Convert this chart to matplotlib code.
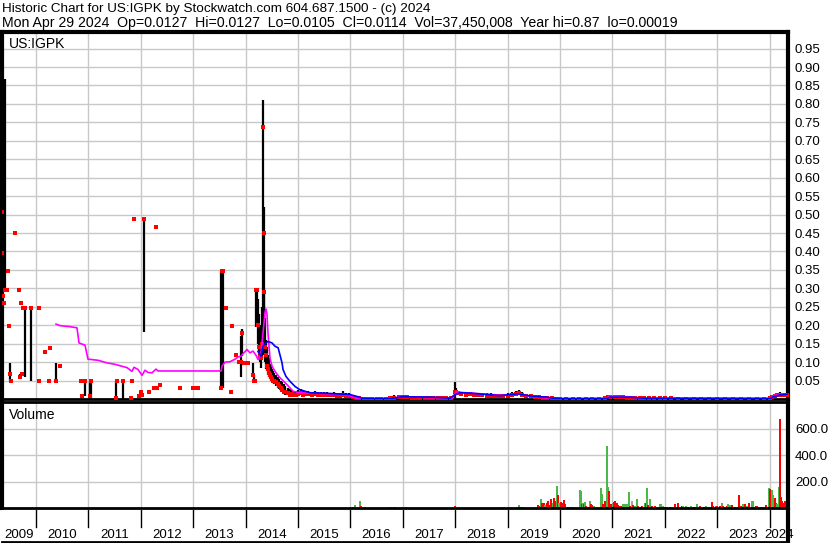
import matplotlib
matplotlib.use("Agg")
import matplotlib.pyplot as plt

plt.rcParams['font.family'] = ['Liberation Sans', 'DejaVu Sans']

# ---- header text ----
title_line = "Historic Chart for US:IGPK by Stockwatch.com 604.687.1500 - (c) 2024"
quote_fields = ["Mon Apr 29 2024", "Op=0.0127", "Hi=0.0127", "Lo=0.0105", "Cl=0.0114",
                "Vol=37,450,008", "Year hi=0.87", "lo=0.00019"]

# ---- price bars (fractional year, high, low, close) ----
bar_t = [2009.36, 2009.41, 2009.504, 2009.695, 2009.79, 2009.905, 2010.382, 2010.935,
         2011.035, 2011.05, 2011.527, 2011.66, 2012.061, 2013.531, 2013.569, 2013.912,
         2013.931, 2014.141, 2014.16,
         # 2014 spike
         2014.20, 2014.215, 2014.23, 2014.25, 2014.27, 2014.29, 2014.31, 2014.33,
         2014.345, 2014.36, 2014.375, 2014.39, 2014.41, 2014.43, 2014.45, 2014.47,
         2014.49, 2014.51, 2014.53, 2014.55, 2014.58, 2014.61, 2014.64, 2014.67,
         2014.70, 2014.73, 2014.76, 2014.80, 2014.84, 2014.88, 2014.92, 2014.96,
         # 2015
         2015.00, 2015.05, 2015.10, 2015.15, 2015.20, 2015.26, 2015.32, 2015.38,
         2015.44, 2015.50, 2015.56, 2015.62, 2015.68, 2015.74, 2015.80, 2015.86,
         2015.92, 2015.98,
         # 2016
         2016.04, 2016.10, 2016.17, 2016.25, 2016.33, 2016.42, 2016.50, 2016.58,
         2016.67, 2016.75, 2016.83, 2016.92,
         # 2017
         2017.00, 2017.08, 2017.17, 2017.25, 2017.33, 2017.42, 2017.50, 2017.58,
         2017.67, 2017.75, 2017.83, 2017.92, 2017.99,
         # 2018
         2018.02, 2018.06, 2018.12, 2018.20, 2018.28, 2018.36, 2018.44, 2018.52,
         2018.60, 2018.68, 2018.76, 2018.84, 2018.92,
         # 2019
         2019.00, 2019.08, 2019.16, 2019.22, 2019.28, 2019.36, 2019.44, 2019.52,
         2019.60, 2019.68, 2019.76, 2019.84, 2019.92,
         # 2020
         2020.00, 2020.12, 2020.25, 2020.37, 2020.50, 2020.62, 2020.75, 2020.86,
         2020.92, 2020.96,
         # 2021
         2021.04, 2021.12, 2021.20, 2021.28, 2021.36, 2021.44, 2021.52, 2021.60,
         2021.70, 2021.80, 2021.90,
         # 2022-2023
         2022.00, 2022.12, 2022.25, 2022.40, 2022.55, 2022.70, 2022.85,
         2023.00, 2023.15, 2023.30, 2023.45, 2023.60, 2023.75, 2023.90,
         # 2024
         2024.00, 2024.05, 2024.10, 2024.15, 2024.20, 2024.25, 2024.30, 2024.33]

bar_hi = [0.469, 0.868, 0.098, 0.067, 0.248, 0.248, 0.098, 0.048,
          0.048, 0.048, 0.048, 0.048, 0.489, 0.348, 0.348, 0.170,
          0.190, 0.097, 0.066,
          0.300, 0.300, 0.270, 0.230, 0.200, 0.170, 0.250, 0.810,
          0.520, 0.300, 0.220, 0.160, 0.140, 0.120, 0.110, 0.095,
          0.090, 0.080, 0.075, 0.070, 0.065, 0.060, 0.055, 0.050,
          0.045, 0.040, 0.035, 0.030, 0.027, 0.024, 0.022, 0.021,
          0.025, 0.027, 0.024, 0.022, 0.023, 0.020, 0.021, 0.019,
          0.020, 0.018, 0.019, 0.017, 0.018, 0.016, 0.015, 0.022,
          0.016, 0.015,
          0.012, 0.008, 0.004, 0.002, 0.002, 0.002, 0.002, 0.002,
          0.002, 0.003, 0.010, 0.007,
          0.008, 0.012, 0.008, 0.007, 0.006, 0.007, 0.006, 0.005,
          0.006, 0.005, 0.004, 0.004, 0.045,
          0.030, 0.022, 0.020, 0.018, 0.019, 0.017, 0.016, 0.017,
          0.016, 0.015, 0.014, 0.014, 0.013,
          0.015, 0.018, 0.022, 0.025, 0.018, 0.014, 0.012, 0.010,
          0.009, 0.008, 0.007, 0.005, 0.003,
          0.002, 0.002, 0.003, 0.002, 0.002, 0.003, 0.002, 0.004,
          0.012, 0.010,
          0.009, 0.008, 0.008, 0.007, 0.007, 0.006, 0.005, 0.004,
          0.004, 0.005, 0.004,
          0.003, 0.004, 0.003, 0.002, 0.002, 0.003, 0.002,
          0.002, 0.002, 0.003, 0.002, 0.002, 0.003, 0.002,
          0.004, 0.010, 0.014, 0.016, 0.018, 0.016, 0.015, 0.0127]

bar_lo = [0.396, 0.296, 0.048, 0.059, 0.059, 0.048, 0.048, 0.007,
          0.000, 0.000, 0.002, 0.000, 0.183, 0.029, 0.029, 0.059,
          0.116, 0.066, 0.048,
          0.195, 0.210, 0.150, 0.110, 0.100, 0.085, 0.110, 0.120,
          0.150, 0.130, 0.100, 0.080, 0.075, 0.065, 0.060, 0.055,
          0.050, 0.045, 0.045, 0.040, 0.035, 0.030, 0.028, 0.022,
          0.020, 0.015, 0.012, 0.010, 0.010, 0.010, 0.009, 0.009,
          0.010, 0.012, 0.010, 0.012, 0.010, 0.011, 0.010, 0.010,
          0.009, 0.010, 0.009, 0.008, 0.009, 0.008, 0.007, 0.008,
          0.006, 0.006,
          0.004, 0.002, 0.001, 0.001, 0.001, 0.0005, 0.001, 0.001,
          0.001, 0.001, 0.003, 0.003,
          0.004, 0.004, 0.003, 0.003, 0.002, 0.002, 0.002, 0.002,
          0.002, 0.001, 0.001, 0.001, 0.004,
          0.010, 0.010, 0.010, 0.009, 0.010, 0.008, 0.008, 0.007,
          0.007, 0.006, 0.006, 0.006, 0.006,
          0.007, 0.008, 0.010, 0.010, 0.008, 0.006, 0.005, 0.004,
          0.003, 0.003, 0.002, 0.001, 0.001,
          0.0005, 0.0005, 0.001, 0.0005, 0.0005, 0.001, 0.0005, 0.001,
          0.003, 0.004,
          0.004, 0.004, 0.003, 0.003, 0.003, 0.002, 0.002, 0.001,
          0.001, 0.001, 0.001,
          0.001, 0.001, 0.001, 0.0005, 0.0005, 0.0005, 0.0005,
          0.0005, 0.0005, 0.0005, 0.0005, 0.0005, 0.0005, 0.0005,
          0.001, 0.003, 0.006, 0.008, 0.009, 0.009, 0.010, 0.0105]

bar_cl = [0.397, 0.296, 0.067, 0.059, 0.248, 0.248, 0.048, 0.048,
          0.007, 0.048, 0.002, 0.048, 0.489, 0.029, 0.348, 0.100,
          0.179, 0.066, 0.048,
          0.296, 0.296, 0.200, 0.140, 0.120, 0.110, 0.150, 0.738,
          0.450, 0.290, 0.140, 0.120, 0.090, 0.080, 0.070, 0.065,
          0.060, 0.055, 0.050, 0.048, 0.045, 0.040, 0.035, 0.030,
          0.025, 0.020, 0.018, 0.015, 0.012, 0.013, 0.012, 0.011,
          0.014, 0.015, 0.012, 0.014, 0.013, 0.012, 0.013, 0.011,
          0.012, 0.011, 0.010, 0.010, 0.011, 0.009, 0.009, 0.010,
          0.008, 0.007,
          0.005, 0.003, 0.002, 0.001, 0.001, 0.001, 0.001, 0.001,
          0.001, 0.002, 0.004, 0.005,
          0.005, 0.006, 0.004, 0.004, 0.003, 0.003, 0.003, 0.003,
          0.003, 0.002, 0.002, 0.002, 0.020,
          0.018, 0.015, 0.014, 0.012, 0.013, 0.012, 0.010, 0.010,
          0.009, 0.009, 0.008, 0.008, 0.008,
          0.009, 0.011, 0.014, 0.015, 0.012, 0.009, 0.007, 0.006,
          0.005, 0.004, 0.003, 0.002, 0.001,
          0.001, 0.001, 0.001, 0.001, 0.001, 0.001, 0.001, 0.002,
          0.006, 0.006,
          0.006, 0.005, 0.005, 0.004, 0.004, 0.003, 0.003, 0.002,
          0.002, 0.002, 0.002,
          0.002, 0.002, 0.001, 0.001, 0.001, 0.001, 0.001,
          0.001, 0.001, 0.001, 0.001, 0.001, 0.001, 0.001,
          0.002, 0.006, 0.009, 0.011, 0.012, 0.011, 0.012, 0.0114]

# single-price days (high = low = close)
dot_t = [2009.35, 2009.37, 2009.38, 2009.45, 2009.47, 2009.485, 2009.523, 2009.60,
         2009.676, 2009.72, 2009.73, 2009.752, 2010.057, 2010.06, 2010.172, 2010.248,
         2010.267, 2010.458, 2010.85, 2010.88, 2011.54, 2011.82, 2011.832, 2011.87,
         2011.966, 2012.004, 2012.023, 2012.156, 2012.252, 2012.29, 2012.309, 2012.366,
         2012.748, 2012.996, 2013.015, 2013.092, 2013.55, 2013.626, 2013.721, 2013.74,
         2013.817, 2013.874, 2013.97, 2014.00, 2014.05, 2014.18]
dot_v = [0.508, 0.278, 0.259, 0.296, 0.348, 0.197, 0.048, 0.449,
         0.296, 0.259, 0.067, 0.248, 0.248, 0.048, 0.128, 0.048,
         0.137, 0.089, 0.048, 0.007, 0.048, 0.004, 0.048, 0.489,
         0.007, 0.018, 0.010, 0.018, 0.029, 0.467, 0.029, 0.037,
         0.029, 0.029, 0.029, 0.029, 0.348, 0.248, 0.018, 0.197,
         0.119, 0.100, 0.097, 0.097, 0.097, 0.048]

# ---- moving averages ----
ma_fast_t = [2010.382, 2010.458, 2010.649, 2010.782, 2010.821, 2010.935, 2010.992, 2011.183,
             2011.355, 2011.508, 2011.660, 2011.737, 2011.832, 2011.870, 2011.947, 2012.023,
             2012.080, 2012.137, 2012.214, 2012.290, 2012.328, 2013.531, 2013.550, 2013.607,
             2013.702, 2013.798, 2013.855, 2013.912, 2013.950, 2014.027, 2014.084, 2014.141,
             2014.200, 2014.237, 2014.294, 2014.332, 2014.370, 2014.389, 2014.408, 2014.427,
             2014.466, 2014.504, 2014.560, 2014.640, 2014.790, 2014.905, 2015.038, 2015.420,
             2015.860, 2016.000, 2016.150, 2016.800, 2016.950, 2017.500, 2017.950, 2018.020,
             2018.100, 2018.500, 2018.900, 2019.200, 2019.450, 2019.750, 2019.900, 2020.900,
             2020.950, 2021.300, 2021.600, 2024.000, 2024.100, 2024.250, 2024.340]
ma_fast_v = [0.203, 0.199, 0.196, 0.193, 0.152, 0.146, 0.108, 0.105,
             0.098, 0.094, 0.088, 0.085, 0.075, 0.086, 0.080, 0.064,
             0.078, 0.072, 0.071, 0.081, 0.076, 0.076, 0.089, 0.100,
             0.101, 0.108, 0.114, 0.116, 0.123, 0.134, 0.125, 0.130,
             0.118, 0.107, 0.125, 0.179, 0.235, 0.244, 0.230, 0.179,
             0.110, 0.089, 0.075, 0.060, 0.039, 0.021, 0.017, 0.015,
             0.012, 0.008, 0.001, 0.002, 0.006, 0.004, 0.003, 0.020,
             0.018, 0.014, 0.010, 0.015, 0.006, 0.003, 0.001, 0.002,
             0.008, 0.006, 0.002, 0.002, 0.010, 0.014, 0.012]

ma_slow_t = [2014.237, 2014.294, 2014.332, 2014.389, 2014.427, 2014.504, 2014.561, 2014.620,
             2014.695, 2014.714, 2014.771, 2014.847, 2014.943, 2015.038, 2015.229, 2015.420,
             2015.611, 2015.860, 2015.992, 2016.150, 2016.240, 2016.760, 2016.950, 2017.004,
             2017.580, 2017.900, 2018.000, 2018.092, 2018.282, 2018.855, 2019.179, 2019.485,
             2019.752, 2019.866, 2020.000, 2020.897, 2020.954, 2021.336, 2021.584, 2022.156,
             2024.010, 2024.070, 2024.200, 2024.340]
ma_slow_v = [0.129, 0.116, 0.143, 0.152, 0.156, 0.152, 0.143, 0.139,
             0.098, 0.080, 0.061, 0.048, 0.034, 0.025, 0.017, 0.016,
             0.015, 0.013, 0.012, 0.006, 0.001, 0.001, 0.005, 0.006,
             0.005, 0.002, 0.012, 0.017, 0.016, 0.009, 0.014, 0.007,
             0.005, 0.002, 0.001, 0.001, 0.005, 0.005, 0.002, 0.002,
             0.001, 0.006, 0.011, 0.013]

# ---- volume (fractional year, volume, colour code g/r/k) ----
vol_t = [2016.044, 2016.082, 2016.183, 2016.202, 2016.273, 2016.737, 2016.765, 2016.794,
         2016.851, 2017.055, 2017.990, 2018.887, 2019.174, 2019.218, 2019.237, 2019.294,
         2019.575, 2019.605, 2019.637, 2019.662, 2019.695, 2019.720, 2019.746, 2019.771,
         2019.796, 2019.828, 2019.861, 2019.885, 2019.918, 2019.937, 2019.962, 2019.987,
         2020.013, 2020.038, 2020.071, 2020.095, 2020.134, 2020.170, 2020.210, 2020.248,
         2020.376, 2020.406, 2020.420, 2020.440, 2020.458, 2020.483, 2020.497, 2020.520,
         2020.545, 2020.573, 2020.598, 2020.617, 2020.650, 2020.777, 2020.802, 2020.821,
         2020.853, 2020.872, 2020.903, 2020.922, 2020.941, 2020.968, 2021.006, 2021.031,
         2021.056, 2021.082, 2021.113, 2021.145, 2021.178, 2021.202, 2021.230, 2021.255,
         2021.279, 2021.311, 2021.336, 2021.368, 2021.399, 2021.431, 2021.464, 2021.494,
         2021.527, 2021.559, 2021.622, 2021.641, 2021.660, 2021.685, 2021.718, 2021.750,
         2021.780, 2021.813, 2021.908, 2021.937, 2021.966, 2022.004, 2022.050, 2022.100,
         2022.195, 2022.246, 2022.323, 2022.353, 2022.400, 2022.450, 2022.500, 2022.550,
         2022.609, 2022.672, 2022.750, 2022.781, 2022.850, 2022.895, 2022.926, 2022.971,
         2023.002, 2023.050, 2023.086, 2023.116, 2023.181, 2023.212, 2023.244, 2023.277,
         2023.330, 2023.422, 2023.454, 2023.498, 2023.531, 2023.574, 2023.607, 2023.658,
         2023.689, 2023.735, 2023.765, 2023.830, 2023.880, 2023.926, 2023.989, 2024.008,
         2024.027, 2024.052, 2024.071, 2024.097, 2024.122, 2024.147, 2024.174, 2024.193,
         2024.212, 2024.237, 2024.262, 2024.294, 2024.313]
vol_v = [7.5, 22.6, 53, 15, 7.5, 7.5, 7.5, 7.5,
         7.5, 7.5, 12.6, 7.5, 7.5, 22.6, 7.5, 7.5,
         22.6, 12.6, 68, 37.7, 37.7, 22.6, 37.7, 55,
         22.6, 68, 37.7, 78, 50, 166, 100, 37.7,
         48, 37.7, 63, 32.7, 7.5, 7.5, 7.5, 7.5,
         136, 128, 32.7, 37.7, 32.7, 45, 17.6, 7.5,
         7.5, 53, 32.7, 22.6, 12.6, 151, 106, 32.7,
         53, 40, 468, 156, 128, 32.7, 37.7, 48,
         53, 37.7, 22.6, 17.6, 17.6, 30, 30, 30,
         30, 121, 17.6, 53, 22.6, 17.6, 68, 17.6,
         7.5, 12.6, 37.7, 37.7, 151, 22.6, 68, 12.6,
         7.5, 12.6, 30, 30, 17.6, 7.5, 7.5, 7.5,
         30, 37.7, 12.6, 12.6, 12.6, 7.5, 12.6, 7.5,
         30, 12.6, 7.5, 12.6, 7.5, 45, 17.6, 17.6,
         17.6, 12.6, 37.7, 17.6, 12.6, 30, 22.6, 22.6,
         7.5, 100, 12.6, 30, 30, 12.6, 37.7, 53,
         53, 17.6, 12.6, 7.5, 7.5, 22.6, 151, 146,
         136, 136, 98, 75, 37.7, 30, 161, 675,
         80, 53, 37.7, 53, 30]
vol_c = ['r', 'g', 'g', 'r', 'r', 'g', 'g', 'g',
         'r', 'g', 'r', 'g', 'g', 'g', 'r', 'r',
         'r', 'r', 'g', 'r', 'r', 'g', 'r', 'r',
         'r', 'r', 'g', 'r', 'r', 'g', 'r', 'g',
         'r', 'r', 'r', 'r', 'g', 'g', 'g', 'g',
         'g', 'g', 'r', 'g', 'r', 'g', 'r', 'g',
         'r', 'g', 'r', 'r', 'g', 'g', 'g', 'r',
         'r', 'r', 'g', 'g', 'r', 'r', 'g', 'r',
         'r', 'r', 'r', 'r', 'r', 'g', 'g', 'g',
         'g', 'g', 'r', 'k', 'r', 'g', 'g', 'r',
         'g', 'r', 'g', 'r', 'g', 'r', 'g', 'r',
         'g', 'r', 'g', 'g', 'g', 'r', 'g', 'r',
         'r', 'r', 'r', 'g', 'g', 'r', 'g', 'r',
         'g', 'r', 'r', 'g', 'r', 'r', 'r', 'g',
         'r', 'r', 'g', 'r', 'r', 'g', 'g', 'r',
         'g', 'r', 'r', 'g', 'r', 'g', 'r', 'g',
         'g', 'r', 'r', 'g', 'g', 'r', 'g', 'r',
         'r', 'g', 'g', 'r', 'r', 'g', 'g', 'r',
         'r', 'r', 'r', 'r', 'r']
vol_colors = {'g': '#4cb84c', 'r': '#ff0000', 'k': '#a6a6a6'}

years = list(range(2009, 2025))
price_ticks = [0.05, 0.10, 0.15, 0.20, 0.25, 0.30, 0.35, 0.40, 0.45, 0.50,
               0.55, 0.60, 0.65, 0.70, 0.75, 0.80, 0.85, 0.90, 0.95]
vol_ticks = [200, 400, 600]

x_start, x_end = 2009.351, 2024.351

# ---- figure & layout (pixel boxes) ----
W, H = 830, 543
fig = plt.figure(figsize=(W / 100, H / 100), dpi=100)


def box(left, top, right, bottom):
    return [left / W, 1 - bottom / H, (right - left) / W, (bottom - top) / H]


ax = fig.add_axes(box(2, 32, 788, 399))
axv = fig.add_axes(box(2, 402, 788, 508))
axb = fig.add_axes(box(2, 510, 788, 542))

grid_kw = dict(color='#c8c8c8', lw=1.0)

for a in (ax, axv):
    a.set_xlim(x_start, x_end)
    a.set_xticks(years[1:])
    a.set_xticklabels([])
    a.tick_params(axis='x', length=0)
    a.yaxis.tick_right()
    a.tick_params(axis='y', length=0, pad=5, labelsize=9.5)
    a.grid(True, **grid_kw)
    a.set_axisbelow(True)
    for s in a.spines.values():
        s.set_color('black')
    a.spines['left'].set_linewidth(3)
    a.spines['right'].set_linewidth(3)
    a.spines['top'].set_linewidth(2)
    a.spines['bottom'].set_linewidth(2)
ax.spines['top'].set_linewidth(3)

# price panel
ax.set_ylim(0, 0.995)
ax.set_yticks(price_ticks)
ax.set_yticklabels([f"{v:.2f}" for v in price_ticks])
ax.vlines(bar_t, bar_lo, bar_hi, color='black', lw=1.6, zorder=2)
ax.plot(bar_t, bar_cl, 's', color='#ff0000', ms=2.2, mew=0, zorder=3)
ax.plot(dot_t, dot_v, 's', color='#ff0000', ms=2.2, mew=0, zorder=3)
ax.plot(ma_fast_t, ma_fast_v, color='#ff00ff', lw=1.2, zorder=4)
ax.plot(ma_slow_t, ma_slow_v, color='#0000ff', lw=1.2, zorder=5)
ax.text(7 / 786, 0.987, "US:IGPK", transform=ax.transAxes, ha='left', va='top',
        fontsize=10)

# volume panel
axv.set_ylim(0, 800)
axv.set_yticks(vol_ticks)
axv.set_yticklabels([f"{v:.1f}" for v in vol_ticks])
axv.bar(vol_t, vol_v, width=0.036, color=[vol_colors[c] for c in vol_c],
        linewidth=0, zorder=2)
axv.text(7 / 786, 0.94, "Volume", transform=axv.transAxes, ha='left', va='top',
         fontsize=10)

# year band
axb.set_xlim(x_start, x_end)
axb.set_ylim(0, 1)
axb.set_xticks([])
axb.set_yticks([])
axb.spines['top'].set_visible(False)
axb.spines['left'].set_visible(False)
axb.spines['right'].set_linewidth(3)
axb.spines['bottom'].set_linewidth(2)
for y in years[1:]:
    axb.axvline(y, ymin=0.47, ymax=1, color='black', lw=1)
for y in years:
    lo = max(y, x_start)
    hi = min(y + 1, x_end)
    axb.text((lo + hi) / 2, 0.22, str(y), ha='center', va='center', fontsize=9.5)

# header
fig.text(2 / W, 1 - 9 / H, title_line, ha='left', va='center', fontsize=9.7)
fig.text(2 / W, 1 - 23 / H, "  ".join(quote_fields), ha='left', va='center',
         fontsize=10.2)

fig.savefig("out.png", dpi=100)
